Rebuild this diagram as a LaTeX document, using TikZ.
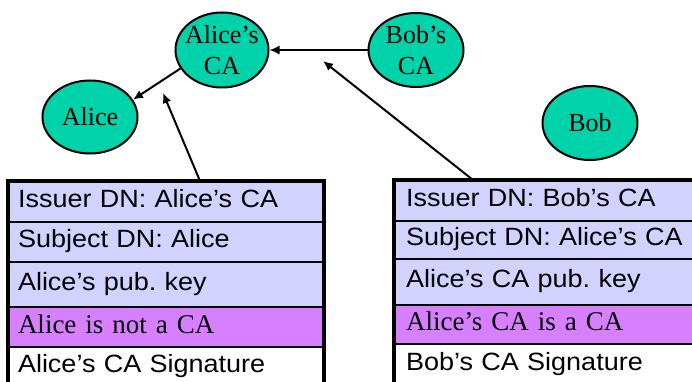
\documentclass[tikz,border=0pt]{standalone}
\usepackage{fontspec}
\setmainfont{Liberation Serif}
\newfontfamily\arialf[FakeStretch=1.08]{Liberation Sans}
\usetikzlibrary{arrows.meta,shapes.geometric}
\definecolor{teal1}{RGB}{0,210,170}
\definecolor{lav}{RGB}{210,210,255}
\definecolor{purp}{RGB}{214,128,255}
\frenchspacing
\begin{document}
\begin{tikzpicture}[x=1pt,y=1pt,
  ent/.style={ellipse,draw=black,line width=2pt,fill=teal1,inner sep=0pt},
  enttext/.style={font=\fontsize{26}{31}\selectfont,align=center,inner sep=0pt},
  cell/.style={rectangle,draw=black,line width=2pt,anchor=north west,inner ysep=0pt,outer sep=0pt,align=left,execute at begin node=\strut},
  lcell/.style={cell,inner xsep=10pt,text width=296pt},
  rcell/.style={cell,inner xsep=12pt,text width=286pt},
  sans/.style={font=\arialf\fontsize{25}{29}\selectfont},
  serifc/.style={font=\fontsize{27}{31}\selectfont},
  frame/.style={draw=black,line width=3.5pt},
  link/.style={line width=2pt,-{Latex[length=10pt,width=9pt]}}]
\useasboundingbox (0,0) rectangle (692,-382);
\clip (0,0) rectangle (692,-382);
% entities
\node[ent,minimum width=93pt,minimum height=75pt] (aca) at (222,-50) {};
\node[enttext] (acat) at (aca) {Alice’s\\CA};
\node[ent,minimum width=95pt,minimum height=73pt] (alice) at (90,-117) {};
\node[enttext] (alicet) at (alice) {Alice};
\node[ent,minimum width=95pt,minimum height=74pt] (bca) at (416,-50) {};
\node[enttext] (bcat) at (bca) {Bob’s\\CA};
\node[ent,minimum width=95pt,minimum height=74pt] (bob) at (590,-123) {};
\node[enttext] (bobt) at (bob) {Bob};
% left certificate
\node[lcell,sans,fill=lav,minimum height=41pt] (l1) at (8,-181) {Issuer DN: Alice’s CA};
\node[lcell,sans,fill=lav,minimum height=40pt] (l2) at (l1.south west) {Subject DN: Alice};
\node[lcell,sans,fill=lav,minimum height=45pt] (l3) at (l2.south west) {Alice’s pub. key};
\node[lcell,serifc,fill=purp,minimum height=40pt] (l4) at (l3.south west) {Alice is not a CA};
\node[lcell,sans,fill=white,minimum height=40pt] (l5) at (l4.south west) {Alice’s CA Signature};
\draw[frame] (l1.north west) rectangle (l5.south east);
% right certificate
\node[rcell,sans,fill=lav,minimum height=41pt] (r1) at (394,-180) {Issuer DN: Bob’s CA};
\node[rcell,sans,fill=lav,minimum height=38pt] (r2) at (r1.south west) {Subject DN: Alice’s CA};
\node[rcell,sans,fill=lav,minimum height=46pt] (r3) at (r2.south west) {Alice’s CA pub. key};
\node[rcell,serifc,fill=purp,minimum height=39pt] (r4) at (r3.south west) {Alice’s CA is a CA};
\node[rcell,sans,fill=white,minimum height=42pt] (r5) at (r4.south west) {Bob’s CA Signature};
\draw[frame] (r1.north west) rectangle (r5.south east);
% connectors
\coordinate (s1) at (200,-181);
\coordinate (t1) at (163,-93);
\coordinate (s2) at (473,-180);
\coordinate (t2) at (323,-61);
\draw[link,line width=1.5pt] (bca.west) -- (aca.east);
\draw[link] (aca.204) -- (alice.22);
\draw[link] (s1) -- (t1);
\draw[link] (s2) -- (t2);
\end{tikzpicture}
\end{document}
